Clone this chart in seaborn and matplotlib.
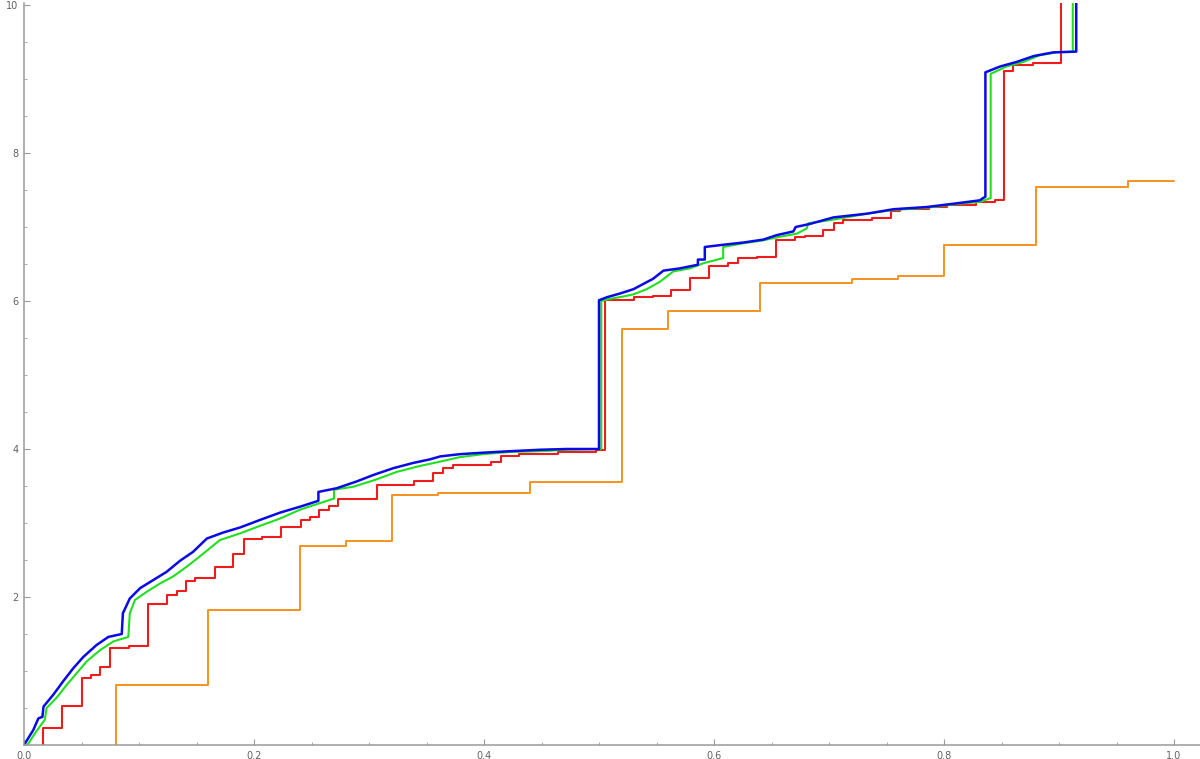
import numpy as np
import matplotlib
matplotlib.use("Agg")
import matplotlib.pyplot as plt
import seaborn as sns
from matplotlib.ticker import MultipleLocator, FixedLocator

# ---------------- data ----------------
# orange: coarse step function (value holds from edge i to edge i+1)
orange_edges = [0.08, 0.16, 0.24, 0.28, 0.32, 0.36, 0.44, 0.52, 0.56, 0.64,
                0.72, 0.76, 0.80, 0.88, 0.96, 1.00]
orange_levels = [0.81, 1.82, 2.69, 2.76, 3.38, 3.40, 3.55, 5.62, 5.86, 6.24,
                 6.30, 6.34, 6.75, 7.54, 7.62]

# red: finer step function (x where each new level starts)
red_x = [0.0162, 0.0333, 0.050, 0.058, 0.066, 0.0748, 0.0916, 0.1075, 0.124, 0.133,
         0.141, 0.149, 0.166, 0.182, 0.191, 0.207, 0.2235, 0.2406, 0.2487, 0.2568,
         0.265, 0.273, 0.3067, 0.339, 0.356, 0.3646, 0.3728, 0.406, 0.4145, 0.4307,
         0.464, 0.497, 0.505, 0.530, 0.5467, 0.563, 0.579, 0.596, 0.6125, 0.621,
         0.637, 0.654, 0.670, 0.679, 0.695, 0.704, 0.7125, 0.737, 0.754, 0.762,
         0.787, 0.803, 0.828, 0.844, 0.852, 0.860, 0.877, 0.902]
red_y = [0.225, 0.53, 0.91, 0.94, 1.06, 1.31, 1.34, 1.91, 2.03, 2.08,
         2.21, 2.25, 2.41, 2.58, 2.79, 2.81, 2.94, 3.04, 3.08, 3.17,
         3.23, 3.33, 3.52, 3.57, 3.67, 3.74, 3.78, 3.83, 3.90, 3.93,
         3.96, 3.98, 6.02, 6.05, 6.07, 6.15, 6.31, 6.47, 6.51, 6.58,
         6.59, 6.82, 6.86, 6.88, 6.96, 7.06, 7.09, 7.12, 7.22, 7.24,
         7.27, 7.30, 7.34, 7.37, 9.11, 9.19, 9.21, 10.5]

# green: near-continuous curve
green_x = [0.003, 0.0096, 0.018, 0.0197, 0.0284, 0.037, 0.0458, 0.0545, 0.066, 0.0777,
           0.0907, 0.092, 0.0965, 0.1067, 0.118, 0.130, 0.1415, 0.153, 0.1704, 0.188,
           0.205, 0.2226, 0.240, 0.2516, 0.2696, 0.2696, 0.2864, 0.3067, 0.324, 0.344,
           0.362, 0.379, 0.399, 0.4226, 0.449, 0.472, 0.502, 0.502, 0.5096, 0.521,
           0.530, 0.5415, 0.553, 0.5646, 0.579, 0.5907, 0.608, 0.608, 0.6255, 0.643,
           0.6545, 0.672, 0.6806, 0.682, 0.704, 0.733, 0.756, 0.785, 0.811, 0.831,
           0.8406, 0.8406, 0.8545, 0.869, 0.883, 0.898, 0.912, 0.912]
green_y = [0.0, 0.16, 0.34, 0.50, 0.64, 0.81, 0.97, 1.13, 1.28, 1.40,
           1.46, 1.78, 1.96, 2.07, 2.18, 2.28, 2.41, 2.55, 2.77, 2.86,
           2.96, 3.06, 3.18, 3.24, 3.33, 3.45, 3.49, 3.59, 3.69, 3.77,
           3.83, 3.89, 3.93, 3.96, 3.97, 3.99, 4.00, 6.00, 6.03, 6.06,
           6.09, 6.16, 6.26, 6.40, 6.44, 6.51, 6.58, 6.73, 6.78, 6.82,
           6.86, 6.91, 6.98, 7.05, 7.10, 7.18, 7.23, 7.26, 7.31, 7.34,
           7.39, 9.07, 9.17, 9.23, 9.32, 9.36, 9.37, 10.5]

# blue: near-continuous curve (topmost)
blue_x = [0.0, 0.008, 0.0125, 0.016, 0.017, 0.0255, 0.034, 0.043, 0.0516, 0.063,
          0.0733, 0.085, 0.086, 0.092, 0.101, 0.1125, 0.124, 0.1357, 0.147, 0.159,
          0.173, 0.188, 0.205, 0.2226, 0.240, 0.256, 0.256, 0.272, 0.289, 0.304,
          0.321, 0.338, 0.353, 0.362, 0.379, 0.399, 0.4226, 0.449, 0.472, 0.500,
          0.500, 0.5067, 0.518, 0.530, 0.5385, 0.547, 0.556, 0.570, 0.586, 0.586,
          0.592, 0.592, 0.608, 0.6255, 0.643, 0.6545, 0.669, 0.671, 0.683, 0.704,
          0.733, 0.756, 0.785, 0.811, 0.831, 0.836, 0.836, 0.849, 0.863, 0.878,
          0.895, 0.915, 0.915]
blue_y = [0.0, 0.20, 0.36, 0.38, 0.52, 0.68, 0.86, 1.04, 1.19, 1.35,
          1.46, 1.50, 1.78, 1.98, 2.12, 2.23, 2.34, 2.49, 2.61, 2.79,
          2.87, 2.94, 3.04, 3.14, 3.22, 3.30, 3.42, 3.47, 3.56, 3.65,
          3.74, 3.81, 3.86, 3.90, 3.93, 3.95, 3.97, 3.99, 4.00, 4.00,
          6.01, 6.05, 6.10, 6.16, 6.23, 6.30, 6.41, 6.44, 6.49, 6.56,
          6.56, 6.73, 6.76, 6.79, 6.83, 6.89, 6.94, 7.00, 7.04, 7.13,
          7.18, 7.24, 7.27, 7.32, 7.36, 7.41, 9.09, 9.17, 9.23, 9.31,
          9.36, 9.37, 10.5]

x_major = [0.0, 0.2, 0.4, 0.6, 0.8, 1.0]
x_labels = ["0.0", "0.2", "0.4", "0.6", "0.8", "1.0"]
y_major = [2, 4, 6, 8, 10]
y_labels = ["2", "4", "6", "8", "10"]

# ---------------- plotting ----------------
sns.set_style("white")
plt.rcParams['font.family'] = ['DejaVu Sans']

fig = plt.figure(figsize=(12, 7.59), dpi=100)
ax = fig.add_axes([0.02, 0.01845, 0.98, 0.9776])

# step series start with a vertical rise from the axis
ox = [orange_edges[0]] + orange_edges
oy = [0.0] + orange_levels + [orange_levels[-1]]
rx = [red_x[0]] + red_x
ry = [0.0] + red_y

sns.lineplot(x=ox, y=oy, sort=False, estimator=None, color="#f7931e",
             linewidth=1.4, drawstyle="steps-post", ax=ax)
sns.lineplot(x=rx, y=ry, sort=False, estimator=None, color="#ee1c1c",
             linewidth=1.5, drawstyle="steps-post", ax=ax)
sns.lineplot(x=green_x, y=green_y, sort=False, estimator=None, color="#1fe01f",
             linewidth=1.5, ax=ax)
sns.lineplot(x=blue_x, y=blue_y, sort=False, estimator=None, color="#0a0ae6",
             linewidth=1.8, ax=ax)

ax.set_xlim(0, 1176 / 1150)
ax.set_ylim(0, 742 / 74)

for side in ("top", "right"):
    ax.spines[side].set_visible(False)
for side in ("left", "bottom"):
    ax.spines[side].set_color("#9a9a9a")
    ax.spines[side].set_linewidth(1.1)

ax.xaxis.set_major_locator(FixedLocator(x_major))
ax.set_xticklabels(x_labels)
ax.xaxis.set_minor_locator(MultipleLocator(0.05))
ax.yaxis.set_major_locator(FixedLocator(y_major))
ax.set_yticklabels(y_labels)
ax.yaxis.set_minor_locator(MultipleLocator(0.5))

ax.tick_params(axis="both", which="major", direction="in", length=4, width=0.8,
               color="#9a9a9a", labelsize=7, labelcolor="#606060", pad=4)
ax.tick_params(axis="both", which="minor", direction="in", length=2.5, width=0.6,
               color="#9a9a9a")
ax.tick_params(axis="x", which="both", bottom=True)
ax.tick_params(axis="y", which="both", left=True)
ax.set_xlabel("")
ax.set_ylabel("")
ax.set_facecolor("white")

fig.savefig("out.png", dpi=100, facecolor="white")
